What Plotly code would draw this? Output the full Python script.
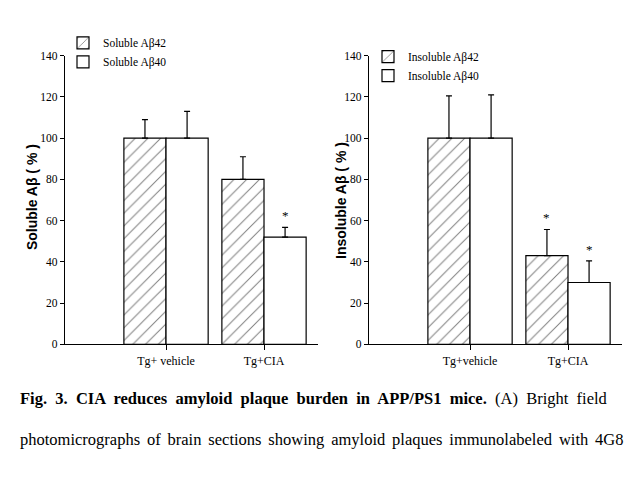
import plotly.graph_objects as go

# ---- data ----
cats_left = ["Tg+ vehicle", "Tg+CIA"]
cats_right = ["Tg+vehicle", "Tg+CIA"]

sol_ab42 = [100, 80]
sol_ab42_err = [9, 11]
sol_ab40 = [100, 52]
sol_ab40_err = [13, 4.7]

ins_ab42 = [100, 43]
ins_ab42_err = [20.5, 12.7]
ins_ab40 = [100, 30]
ins_ab40_err = [21, 10.5]

sig_left_42 = [False, False]
sig_left_40 = [False, True]
sig_right_42 = [False, True]
sig_right_40 = [False, True]

yticks = [0, 20, 40, 60, 80, 100, 120, 140]

BARGAP = 0.14

serif = "Liberation Serif, Times New Roman, serif"
sans = "Liberation Sans, Arial, sans-serif"

fig = go.Figure()

def err(arr):
    return dict(type="data", array=arr, arrayminus=[0] * len(arr), symmetric=False,
                color="black", thickness=1.2, width=3)

hatch = dict(shape="/", size=9, solidity=0.11, fgcolor="black", bgcolor="white", fillmode="overlay")

fig.add_trace(go.Bar(x=cats_left, y=sol_ab42, name="Soluble A\u03b242", error_y=err(sol_ab42_err),
                     marker=dict(color="white", line=dict(color="black", width=1.2), pattern=hatch),
                     xaxis="x", yaxis="y", legend="legend"))
fig.add_trace(go.Bar(x=cats_left, y=sol_ab40, name="Soluble A\u03b240", error_y=err(sol_ab40_err),
                     marker=dict(color="white", line=dict(color="black", width=1.2)),
                     xaxis="x", yaxis="y", legend="legend"))
fig.add_trace(go.Bar(x=cats_right, y=ins_ab42, name="Insoluble A\u03b242", error_y=err(ins_ab42_err),
                     marker=dict(color="white", line=dict(color="black", width=1.2), pattern=hatch),
                     xaxis="x2", yaxis="y2", legend="legend2"))
fig.add_trace(go.Bar(x=cats_right, y=ins_ab40, name="Insoluble A\u03b240", error_y=err(ins_ab40_err),
                     marker=dict(color="white", line=dict(color="black", width=1.2)),
                     xaxis="x2", yaxis="y2", legend="legend2"))

# significance stars
half = (1 - BARGAP) / 4
anns = []
def stars(vals, errs, sig, offset, xref, yref):
    for i, (v, e, s) in enumerate(zip(vals, errs, sig)):
        if s:
            anns.append(dict(x=i + offset, y=v + e + 1, xref=xref, yref=yref, text="*",
                             showarrow=False, yanchor="bottom", xanchor="center",
                             font=dict(family=serif, size=13, color="black")))
stars(sol_ab42, sol_ab42_err, sig_left_42, -half, "x", "y")
stars(sol_ab40, sol_ab40_err, sig_left_40, half, "x", "y")
stars(ins_ab42, ins_ab42_err, sig_right_42, -half, "x2", "y2")
stars(ins_ab40, ins_ab40_err, sig_right_40, half, "x2", "y2")

# y-axis titles
anns.append(dict(x=32 / 642, y=(481 - 196) / 481, xref="paper", yref="paper", text="<b>Soluble A\u03b2 ( % )</b>",
                 textangle=-90, showarrow=False, xanchor="center", yanchor="middle",
                 font=dict(family=sans, size=14, color="black")))
anns.append(dict(x=341 / 642, y=(481 - 200) / 481, xref="paper", yref="paper", text="<b>Insoluble A\u03b2 ( % )</b>",
                 textangle=-90, showarrow=False, xanchor="center", yanchor="middle",
                 font=dict(family=sans, size=14, color="black")))

# caption (justified look via extra spacing)
cap1 = "<b>Fig.  3.  CIA  reduces  amyloid  plaque  burden  in  APP/PS1  mice.</b>  (A)  Bright  field"
cap2 = "\u2006 ".join("photomicrographs of brain sections showing amyloid plaques immunolabeled with 4G8".split(" "))
anns.append(dict(x=18 / 642, y=(481 - 403) / 481, xref="paper", yref="paper", text=cap1, xanchor="left",
                 yanchor="middle", showarrow=False, font=dict(family=serif, size=16.5, color="black")))
anns.append(dict(x=18 / 642, y=(481 - 445) / 481, xref="paper", yref="paper", text=cap2, xanchor="left",
                 yanchor="middle", showarrow=False, font=dict(family=serif, size=16.5, color="black")))

xr = [-1.031, 1.551]
ydom = [(481 - 347) / 481, (481 - 51) / 481]

xax = dict(type="category", range=xr, showline=True, linecolor="black", linewidth=1.3,
           ticks="outside", ticklen=5, tickwidth=1.2, tickcolor="black", showgrid=False, zeroline=False,
           tickfont=dict(family=serif, size=12, color="black"))
yax = dict(range=[0, 140], tickvals=yticks, showline=True, linecolor="black", linewidth=1.3,
           ticks="outside", ticklen=4, tickwidth=1.2, tickcolor="black", showgrid=False, zeroline=False,
           tickfont=dict(family=serif, size=11.5, color="black"), domain=ydom)

leg = dict(font=dict(family=serif, size=11.5, color="black"), bgcolor="rgba(0,0,0,0)", borderwidth=0,
           xanchor="left", yanchor="top", itemwidth=30, tracegroupgap=0)

fig.update_layout(
    width=642, height=481, margin=dict(l=0, r=0, t=0, b=0),
    paper_bgcolor="white", plot_bgcolor="white",
    barmode="group", bargap=BARGAP, bargroupgap=0,
    xaxis=dict(xax, domain=[65 / 642, 318 / 642], anchor="y"),
    yaxis=dict(yax, anchor="x"),
    xaxis2=dict(xax, domain=[369 / 642, 622 / 642], anchor="y2"),
    yaxis2=dict(yax, anchor="x2"),
    legend=dict(leg, x=63 / 642, y=(481 - 23) / 481),
    legend2=dict(leg, x=368 / 642, y=(481 - 37) / 481),
    annotations=anns,
    showlegend=True,
)

fig.write_html("out.html")
